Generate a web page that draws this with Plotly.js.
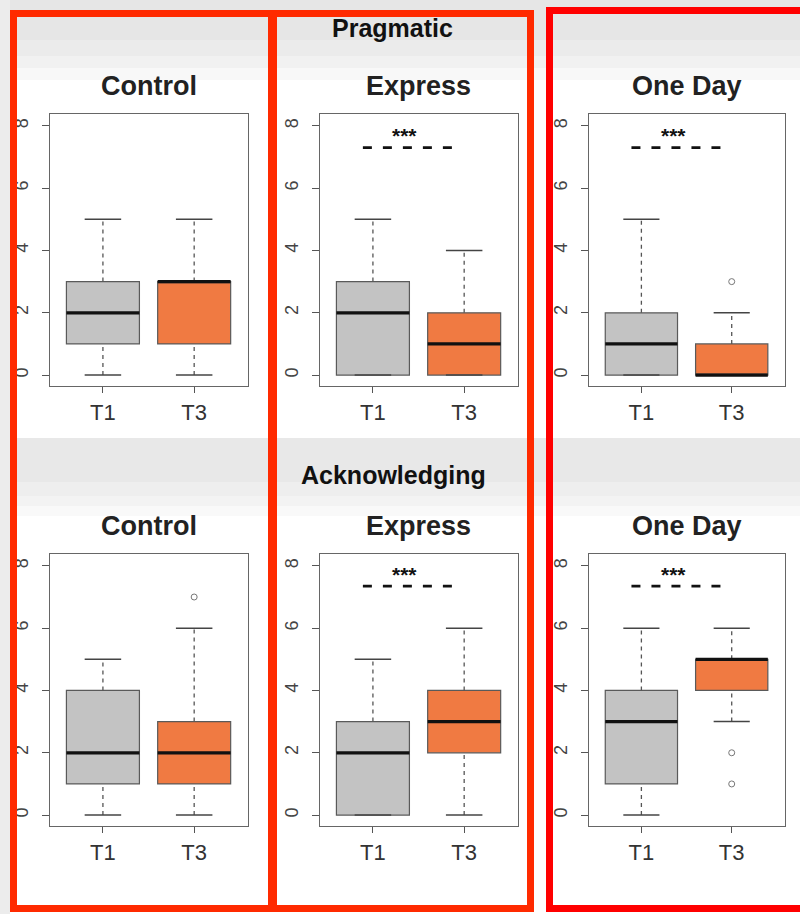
<!DOCTYPE html>
<html>
<head>
<meta charset="utf-8">
<script src="https://cdn.plot.ly/plotly-3.0.1.min.js"></script>
<style>html,body{margin:0;padding:0;background:#fff;}#chart{width:800px;height:914px;}</style>
</head>
<body>
<div id="chart"></div>
<script>
// ---- Data ----
const groupTitles = ['Pragmatic', 'Acknowledging'];
const panelTitles = ['Control', 'Express', 'One Day', 'Control', 'Express', 'One Day'];
const categories = ['T1', 'T3'];
const yTicks = [0, 2, 4, 6, 8];
// per panel: [T1, T3]
const q1Vals      = [[1, 1], [0, 0], [0, 0], [1, 1], [0, 2], [1, 4]];
const medianVals  = [[2, 3], [2, 1], [1, 0], [2, 2], [2, 3], [3, 5]];
const q3Vals      = [[3, 3], [3, 2], [2, 1], [4, 3], [3, 4], [4, 5]];
const lowWhisker  = [[0, 0], [0, 0], [0, 0], [0, 0], [0, 0], [0, 3]];
const highWhisker = [[5, 5], [5, 4], [5, 2], [5, 6], [5, 6], [6, 6]];
const outlierVals = [[[], []], [[], []], [[], [3]], [[], [7]], [[], []], [[], [2, 1]]];
const sigLabels   = ['', '***', '***', '', '***', '***'];
const sigLevel    = [null, 7.3, 7.3, null, 7.35, 7.35];
const groupColors = ['#c3c3c3', '#f07a42'];

// ---- Layout helpers (pixel -> paper) ----
const W = 800, H = 914;
const px = v => v / W;
const py = v => 1 - v / H;
const colX = [[50, 248], [320, 518], [589, 785]];
const rowY = [[114, 386], [554, 826]];

const traces = [];
const layout = {
  width: W, height: H,
  margin: {l: 0, r: 0, t: 0, b: 0},
  paper_bgcolor: '#ffffff',
  plot_bgcolor: '#ffffff',
  showlegend: false,
  font: {family: 'Liberation Sans, Arial, sans-serif', color: '#333'},
  annotations: [],
  shapes: []
};

const pos = [1, 2];
for (let p = 0; p < 6; p++) {
  const r = Math.floor(p / 3), c = p % 3;
  const n = p + 1;
  const xa = n === 1 ? 'x' : 'x' + n;
  const ya = n === 1 ? 'y' : 'y' + n;
  layout[n === 1 ? 'xaxis' : 'xaxis' + n] = {
    domain: [px(colX[c][0]), px(colX[c][1])],
    anchor: ya,
    range: [0.42, 2.59],
    tickvals: pos, ticktext: categories,
    ticks: 'outside', ticklen: 6, tickcolor: '#555',
    tickfont: {size: 22, color: '#333'},
    showline: true, mirror: true, linecolor: '#666', linewidth: 1.2,
    showgrid: false, zeroline: false, fixedrange: true
  };
  layout[n === 1 ? 'yaxis' : 'yaxis' + n] = {
    domain: [py(rowY[r][1]), py(rowY[r][0])],
    anchor: xa,
    range: [-0.35, 8.38],
    tickvals: yTicks,
    ticks: 'outside', ticklen: 7, tickcolor: '#555',
    tickangle: -90, ticklabelstandoff: 7,
    tickfont: {size: 18, color: '#444'},
    showline: true, mirror: true, linecolor: '#666', linewidth: 1.2,
    showgrid: false, zeroline: false, fixedrange: true
  };
  for (let g = 0; g < 2; g++) {
    const x = pos[g];
    const q1 = q1Vals[p][g], md = medianVals[p][g], q3 = q3Vals[p][g];
    const lo = lowWhisker[p][g], hi = highWhisker[p][g];
    // whiskers (dashed)
    traces.push({
      type: 'scatter', mode: 'lines', xaxis: xa, yaxis: ya, hoverinfo: 'skip',
      x: [x, x, null, x, x], y: [lo, q1, null, q3, hi],
      line: {color: '#555', width: 1.3, dash: '4px,4px'}
    });
    // caps
    traces.push({
      type: 'scatter', mode: 'lines', xaxis: xa, yaxis: ya, hoverinfo: 'skip',
      x: [x - 0.2, x + 0.2, null, x - 0.2, x + 0.2], y: [lo, lo, null, hi, hi],
      line: {color: '#444', width: 1.5}
    });
    // box
    traces.push({
      type: 'box', xaxis: xa, yaxis: ya,
      x: [x], q1: [q1], median: [md], q3: [q3], lowerfence: [q1], upperfence: [q3],
      width: 0.8, whiskerwidth: 0, boxpoints: false,
      fillcolor: groupColors[g], line: {color: '#5a5a5a', width: 1.2}
    });
    // thick median
    traces.push({
      type: 'scatter', mode: 'lines', xaxis: xa, yaxis: ya, hoverinfo: 'skip',
      x: [x - 0.4, x + 0.4], y: [md, md],
      line: {color: '#111', width: 3.2}
    });
    // outliers
    if (outlierVals[p][g].length) {
      traces.push({
        type: 'scatter', mode: 'markers', xaxis: xa, yaxis: ya,
        x: outlierVals[p][g].map(() => x), y: outlierVals[p][g],
        marker: {symbol: 'circle-open', size: 6, color: '#777', line: {width: 1}}
      });
    }
  }
  // significance
  if (sigLabels[p]) {
    traces.push({
      type: 'scatter', mode: 'lines', xaxis: xa, yaxis: ya, hoverinfo: 'skip',
      x: [pos[0] - 0.11, pos[1] - 0.02], y: [sigLevel[p], sigLevel[p]],
      line: {color: '#111', width: 2.6, dash: '9px,11px'}
    });
    layout.annotations.push({
      xref: xa, yref: ya, x: 1.35, y: sigLevel[p] + 0.38,
      text: '<b>' + sigLabels[p] + '</b>', showarrow: false,
      font: {size: 21, color: '#111'}
    });
  }
  // panel title
  layout.annotations.push({
    xref: 'paper', yref: 'paper',
    x: (px(colX[c][0]) + px(colX[c][1])) / 2,
    y: py(r === 0 ? 86 : 526),
    text: '<b>' + panelTitles[p] + '</b>', showarrow: false,
    font: {size: 27, color: '#222'}, xanchor: 'center', yanchor: 'middle'
  });
}
// group titles
layout.annotations.push({
  xref: 'paper', yref: 'paper', x: px(392), y: py(28),
  text: '<b>' + groupTitles[0] + '</b>', showarrow: false,
  font: {size: 25, color: '#111'}, xanchor: 'center', yanchor: 'middle'
});
layout.annotations.push({
  xref: 'paper', yref: 'paper', x: px(393), y: py(475),
  text: '<b>' + groupTitles[1] + '</b>', showarrow: false,
  font: {size: 25, color: '#111'}, xanchor: 'center', yanchor: 'middle'
});

// background bands
const band = (y0, y1, col) => ({type: 'rect', xref: 'paper', yref: 'paper', layer: 'below',
  x0: 0, x1: 1, y0: py(y1), y1: py(y0), fillcolor: col, line: {width: 0}});
layout.shapes.push(band(0, 40, '#e6e6e6'));
layout.shapes.push(band(40, 56, '#ebebeb'));
layout.shapes.push(band(56, 68, '#f1f1f1'));
layout.shapes.push(band(68, 80, '#f8f8f8'));
layout.shapes.push(band(438, 482, '#e8e8e8'));
layout.shapes.push(band(482, 496, '#eeeeee'));
layout.shapes.push(band(496, 506, '#f3f3f3'));
layout.shapes.push(band(506, 516, '#f9f9f9'));
layout.shapes.push({type: 'rect', xref: 'paper', yref: 'paper', layer: 'below',
  x0: 0, x1: px(10), y0: 0, y1: 1, fillcolor: '#ececec', line: {width: 0}});

// red frames
const frame = (x0, y0, x1, y1, col) => ({type: 'rect', xref: 'paper', yref: 'paper', layer: 'above',
  x0: px(x0), x1: px(x1), y0: py(y1), y1: py(y0), fillcolor: 'rgba(0,0,0,0)',
  line: {color: col, width: 7}});
layout.shapes.push(frame(13.5, 13.5, 271.5, 908.5, '#ff2a00'));
layout.shapes.push(frame(273.5, 13.5, 530.5, 908.5, '#ff2a00'));
layout.shapes.push(frame(549.5, 10.5, 806, 908.5, '#ff0000'));

Plotly.newPlot('chart', traces, layout, {staticPlot: true, displayModeBar: false});
</script>
</body>
</html>
